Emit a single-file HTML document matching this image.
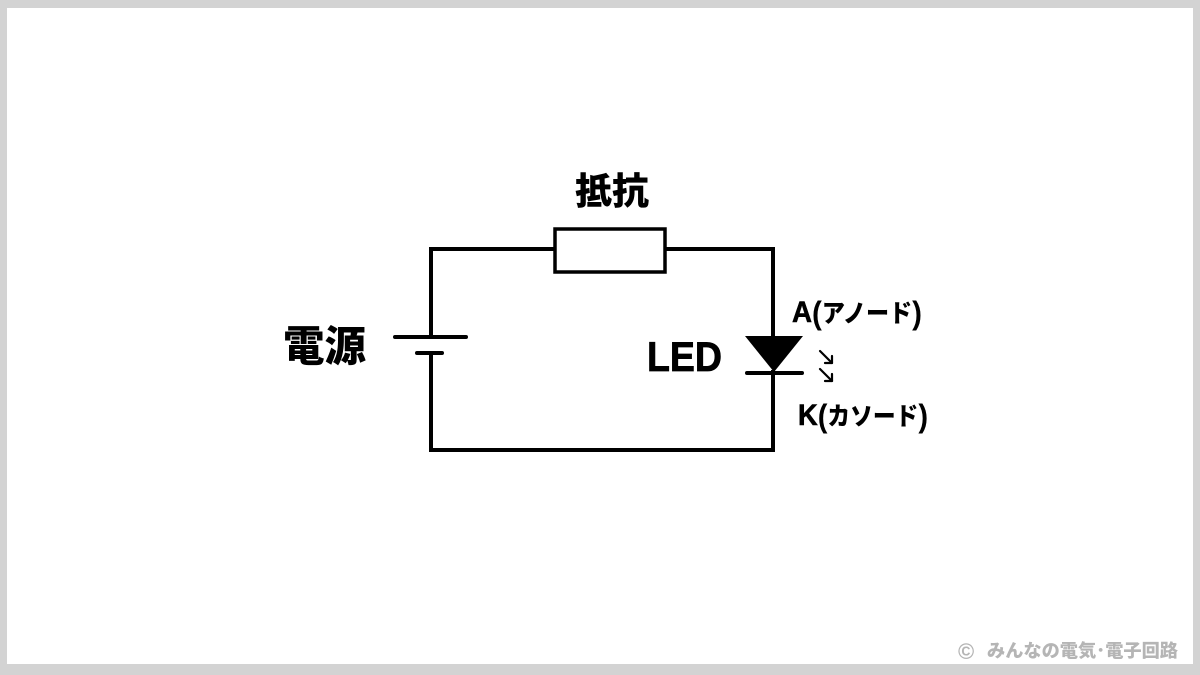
<!DOCTYPE html>
<html>
<head>
<meta charset="utf-8">
<style>
  html, body { margin:0; padding:0; }
  body { width:1200px; height:675px; background:#d3d3d3; overflow:hidden; position:relative; }
  svg { position:absolute; left:0; top:0; }
</style>
</head>
<body>
<svg width="1200" height="675" viewBox="0 0 1200 675" xmlns="http://www.w3.org/2000/svg">
  <rect x="0" y="0" width="1200" height="675" fill="#d3d3d3"/>
  <rect x="7" y="8" width="1186" height="656" fill="#ffffff"/>

  <!-- circuit wires -->
  <g fill="none" stroke="#000" stroke-width="4" stroke-linejoin="miter" stroke-linecap="square">
    <path d="M431,337 V249 H554"/>
    <path d="M666,249 H773 V337"/>
    <path d="M773,372 V450 H431 V353"/>
  </g>
  <!-- resistor -->
  <rect x="555" y="229" width="110" height="43" fill="#fff" stroke="#000" stroke-width="3.5"/>
  <!-- battery -->
  <g stroke="#000" stroke-width="4" stroke-linecap="round">
    <line x1="395" y1="337" x2="466" y2="337"/>
    <line x1="417" y1="353" x2="442" y2="353"/>
  </g>
  <!-- diode -->
  <polygon points="745,336 803,336 774,372" fill="#000"/>
  <line x1="747" y1="373" x2="802" y2="373" stroke="#000" stroke-width="4" stroke-linecap="round"/>
  <!-- light arrows -->
  <g fill="none" stroke="#000" stroke-width="2.2" stroke-linecap="round" stroke-linejoin="round">
    <line x1="820" y1="351" x2="832" y2="363"/>
    <polyline points="825,363 832,363 832,356"/>
    <line x1="820" y1="369" x2="832" y2="381"/>
    <polyline points="825,381 832,381 832,374"/>
  </g>

  <!-- labels -->
  <text x="612" y="204" text-anchor="middle" font-family="'Noto Sans CJK JP', sans-serif" font-weight="900" font-size="37" fill="#000">抵抗</text>
  <text x="283" y="361" font-family="'Noto Sans CJK JP', sans-serif" font-weight="900" font-size="42" fill="#000" textLength="83" lengthAdjust="spacingAndGlyphs">電源</text>
  <text x="647" y="371" font-family="'Liberation Sans', sans-serif" font-weight="bold" font-size="42" fill="#000" stroke="#000" stroke-width="0.8" textLength="75" lengthAdjust="spacingAndGlyphs">LED</text>

  <text x="792" y="322" font-weight="bold" fill="#000" textLength="130" lengthAdjust="spacingAndGlyphs"><tspan font-family="'Liberation Sans', sans-serif" font-size="30" stroke="#000" stroke-width="0.6">A</tspan><tspan font-family="'Liberation Sans', sans-serif" font-size="32" dy="2">(</tspan><tspan font-family="'Noto Sans CJK JP', sans-serif" font-size="25" font-weight="900" dy="-2">アノード</tspan><tspan font-family="'Liberation Sans', sans-serif" font-size="32" dy="2">)</tspan></text>
  <text x="798" y="425" font-weight="bold" fill="#000" textLength="130" lengthAdjust="spacingAndGlyphs"><tspan font-family="'Liberation Sans', sans-serif" font-size="30" stroke="#000" stroke-width="0.6">K</tspan><tspan font-family="'Liberation Sans', sans-serif" font-size="32" dy="2">(</tspan><tspan font-family="'Noto Sans CJK JP', sans-serif" font-size="25" font-weight="900" dy="-2">カソード</tspan><tspan font-family="'Liberation Sans', sans-serif" font-size="32" dy="2">)</tspan></text>

  <!-- watermark -->
  <text x="958" y="659" font-family="'Liberation Sans', 'Noto Sans CJK JP', sans-serif" font-weight="bold" font-size="22" fill="#b5b5b5">©</text>
  <text x="987" y="657" font-family="'Noto Sans CJK JP', sans-serif" font-weight="900" font-size="18" fill="#b5b5b5" textLength="191" lengthAdjust="spacingAndGlyphs">みんなの電気･電子回路</text>
</svg>
</body>
</html>
